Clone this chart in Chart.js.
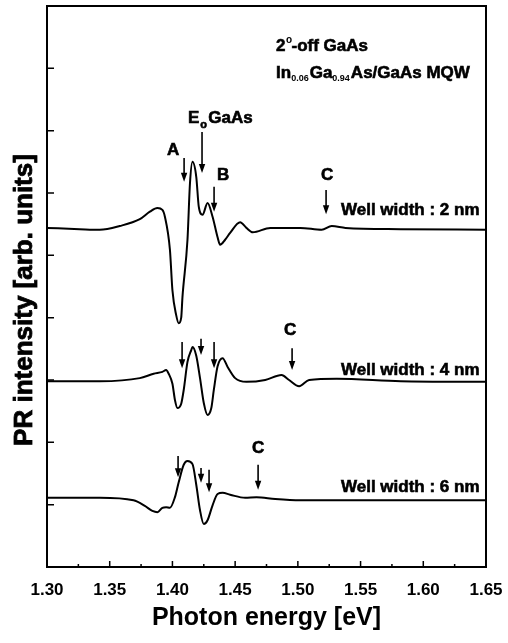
<!DOCTYPE html>
<html lang="en">
<head>
<meta charset="UTF-8">
<title>PR spectra</title>
<script src="https://cdn.jsdelivr.net/npm/chart.js"></script>
<style>
  body { margin: 0; background: #fff; }
  #wrap { width: 508px; height: 643px; }
</style>
</head>
<body>
<div id="wrap"><canvas id="prChart"></canvas></div>
<script>
// photon energy (eV) and PR signal (arb., offset) for each well width
var e2nm = [1.300,1.326,1.342,1.358,1.374,1.382,1.388,1.392,1.394,1.398,1.400,1.403,1.405,1.407,1.408,1.412,1.414,1.416,1.419,1.421,1.424,1.428,1.432,1.436,1.438,1.442,1.446,1.454,1.459,1.464,1.478,1.502,1.519,1.527,1.538,1.582,1.650];
var pr2nm = [5.44,5.42,5.41,5.47,5.58,5.70,5.76,5.73,5.62,5.09,4.44,4.04,3.91,4.00,4.33,5.25,6.16,6.50,6.26,5.78,5.65,5.84,5.62,5.29,5.17,5.25,5.36,5.53,5.44,5.37,5.44,5.44,5.41,5.47,5.44,5.42,5.41];

var e4nm = [1.300,1.342,1.374,1.385,1.392,1.395,1.397,1.400,1.402,1.404,1.407,1.409,1.412,1.415,1.416,1.419,1.422,1.425,1.428,1.431,1.433,1.436,1.440,1.444,1.450,1.459,1.474,1.487,1.493,1.501,1.509,1.531,1.582,1.650];
var pr4nm = [2.98,2.98,3.03,3.10,3.13,3.16,3.10,2.94,2.68,2.55,2.62,2.84,3.29,3.48,3.53,3.39,3.03,2.63,2.44,2.55,2.84,3.22,3.35,3.21,3.03,2.97,3.00,3.08,3.00,2.90,3.00,3.02,2.98,2.97];

var e6nm = [1.300,1.342,1.369,1.378,1.384,1.388,1.392,1.395,1.398,1.402,1.405,1.409,1.412,1.416,1.419,1.422,1.425,1.428,1.432,1.436,1.440,1.446,1.458,1.467,1.482,1.502,1.582,1.650];
var pr6nm = [1.11,1.11,1.07,0.98,0.90,0.88,0.95,0.96,0.95,1.12,1.36,1.64,1.70,1.65,1.32,0.91,0.69,0.75,0.99,1.17,1.19,1.16,1.11,1.12,1.09,1.07,1.07,1.07];

// arrows: energy, top value, tip value
var arrows = [
  [1.4093, 6.56, 6.18], [1.4236, 6.98, 6.32], [1.4332, 6.10, 5.70], [1.5225, 6.05, 5.66],
  [1.4077, 3.61, 3.19], [1.4228, 3.66, 3.40], [1.4332, 3.61, 3.19], [1.4954, 3.51, 3.16],
  [1.4045, 1.78, 1.44], [1.4228, 1.59, 1.35], [1.4292, 1.56, 1.20], [1.4683, 1.64, 1.24]
];
// letter labels: text, energy, value
var letters = [
  ['A', 1.4005, 6.69], ['B', 1.4404, 6.29], ['C', 1.5233, 6.29],
  ['C', 1.4938, 3.80], ['C', 1.4683, 1.91]
];
var wellLabels = [['Well width : 2 nm', 5.73], ['Well width : 4 nm', 3.16], ['Well width : 6 nm', 1.28]];

function pts(xs, ys) {
  return xs.map(function (x, i) { return { x: x, y: ys[i] }; });
}

var FONT = "'Liberation Sans', Arial, sans-serif";

// scanned text looks heavy, so fill + thin stroke
function boldText(c, s, x, y) {
  c.fillText(s, x, y);
  c.strokeText(s, x, y);
}

var decor = {
  id: 'decor',
  afterDraw: function (chart) {
    var c = chart.ctx, a = chart.chartArea;
    var xs = chart.scales.x, ys = chart.scales.y;
    c.save();
    c.strokeStyle = '#000';
    c.fillStyle = '#000';

    // frame
    c.lineWidth = 2;
    c.strokeRect(a.left, a.top, a.right - a.left, a.bottom - a.top);

    // inward ticks
    c.lineWidth = 1.5;
    c.beginPath();
    for (var t = 1.35; t < 1.649; t += 0.05) {
      var px = xs.getPixelForValue(t);
      c.moveTo(px, a.bottom); c.lineTo(px, a.bottom - 6);
    }
    for (var m = 1.325; m < 1.65; m += 0.05) {
      var pm = xs.getPixelForValue(m);
      c.moveTo(pm, a.bottom); c.lineTo(pm, a.bottom - 3);
    }
    for (var k = 1; k <= 8; k++) {
      var py = ys.getPixelForValue(k);
      c.moveTo(a.left, py); c.lineTo(a.left + 7, py);
    }
    c.stroke();

    // arrows
    arrows.forEach(function (ar) {
      var x = xs.getPixelForValue(ar[0]);
      var y0 = ys.getPixelForValue(ar[1]);
      var y1 = ys.getPixelForValue(ar[2]);
      c.lineWidth = 1.6;
      c.beginPath(); c.moveTo(x, y0); c.lineTo(x, y1 - 7); c.stroke();
      c.beginPath();
      c.moveTo(x - 3.2, y1 - 9); c.lineTo(x + 3.2, y1 - 9); c.lineTo(x, y1);
      c.closePath(); c.fill();
    });

    c.lineWidth = 0.6;

    // letters
    c.font = 'bold 17px ' + FONT;
    c.textAlign = 'center';
    c.textBaseline = 'middle';
    letters.forEach(function (l) {
      boldText(c, l[0], xs.getPixelForValue(l[1]), ys.getPixelForValue(l[2]));
    });

    // well width labels
    c.textAlign = 'left';
    var wx = xs.getPixelForValue(1.5344);
    wellLabels.forEach(function (w) {
      boldText(c, w[0], wx, ys.getPixelForValue(w[1]));
    });

    // sample description
    c.textBaseline = 'alphabetic';
    var sx = xs.getPixelForValue(1.4826);
    var b1 = ys.getPixelForValue(8.37) + 6;
    c.font = 'bold 17px ' + FONT;
    boldText(c, '2', sx, b1);
    var w2 = c.measureText('2').width;
    c.font = 'bold 10px ' + FONT;
    c.fillText('o', sx + w2 + 0.5, b1 - 8);
    c.font = 'bold 17px ' + FONT;
    boldText(c, '-off GaAs', sx + w2 + 6, b1);

    var b2 = ys.getPixelForValue(7.94) + 6;
    var parts = [['In', 0], ['0.06', 1], ['Ga', 0], ['0.94', 1], ['As/GaAs MQW', 0]];
    var cx = sx;
    parts.forEach(function (p) {
      c.font = p[1] ? 'bold 9px ' + FONT : 'bold 17px ' + FONT;
      if (p[1]) c.fillText(p[0], cx, b2 + 3);
      else boldText(c, p[0], cx, b2);
      cx += c.measureText(p[0]).width + (p[1] ? 1 : 0);
    });

    // E0 GaAs
    var ex = xs.getPixelForValue(1.4124);
    var eb = ys.getPixelForValue(7.22) + 6;
    c.font = 'bold 17px ' + FONT;
    boldText(c, 'E', ex, eb);
    var we = c.measureText('E').width;
    c.font = 'bold 11px ' + FONT;
    boldText(c, 'o', ex + we + 1, eb + 5);
    c.font = 'bold 17px ' + FONT;
    boldText(c, 'GaAs', ex + we + 9, eb);

    // y axis title
    c.translate(25, 300);
    c.rotate(-Math.PI / 2);
    c.font = 'bold 26px ' + FONT;
    c.textAlign = 'center';
    c.textBaseline = 'middle';
    c.lineWidth = 0.8;
    boldText(c, 'PR intensity [arb. units]', 0, 0);
    c.restore();
  }
};

var lineStyle = {
  borderColor: '#000',
  borderWidth: 2,
  pointRadius: 0,
  fill: false,
  cubicInterpolationMode: 'monotone'
};

new Chart(document.getElementById('prChart'), {
  type: 'line',
  data: {
    datasets: [
      Object.assign({ label: '2 nm', data: pts(e2nm, pr2nm) }, lineStyle),
      Object.assign({ label: '4 nm', data: pts(e4nm, pr4nm) }, lineStyle),
      Object.assign({ label: '6 nm', data: pts(e6nm, pr6nm) }, lineStyle)
    ]
  },
  options: {
    responsive: true,
    maintainAspectRatio: false,
    animation: false,
    layout: { padding: { top: 6, right: 22, left: 0, bottom: 0 } },
    plugins: { legend: { display: false }, tooltip: { enabled: false } },
    scales: {
      x: {
        type: 'linear',
        min: 1.30,
        max: 1.65,
        // invisible grid, only used to push the labels down
        grid: { display: true, drawOnChartArea: false, drawTicks: true, tickLength: 13, color: 'rgba(0,0,0,0)' },
        border: { display: false },
        ticks: {
          stepSize: 0.05,
          padding: 0,
          color: '#000',
          font: { family: FONT, size: 17, weight: 'bold' },
          maxRotation: 0,
          callback: function (v) { return v.toFixed(2); }
        },
        title: {
          display: true,
          text: 'Photon energy [eV]',
          color: '#000',
          font: { family: FONT, size: 25, weight: 'bold' },
          padding: { top: 0, bottom: 10 }
        },
        afterFit: function (s) { s.height = 76; }
      },
      y: {
        min: 0,
        max: 9,
        grid: { display: false },
        border: { display: false },
        ticks: { display: false, stepSize: 1 },
        afterFit: function (s) { s.width = 47; }
      }
    }
  },
  plugins: [decor]
});
</script>
</body>
</html>
